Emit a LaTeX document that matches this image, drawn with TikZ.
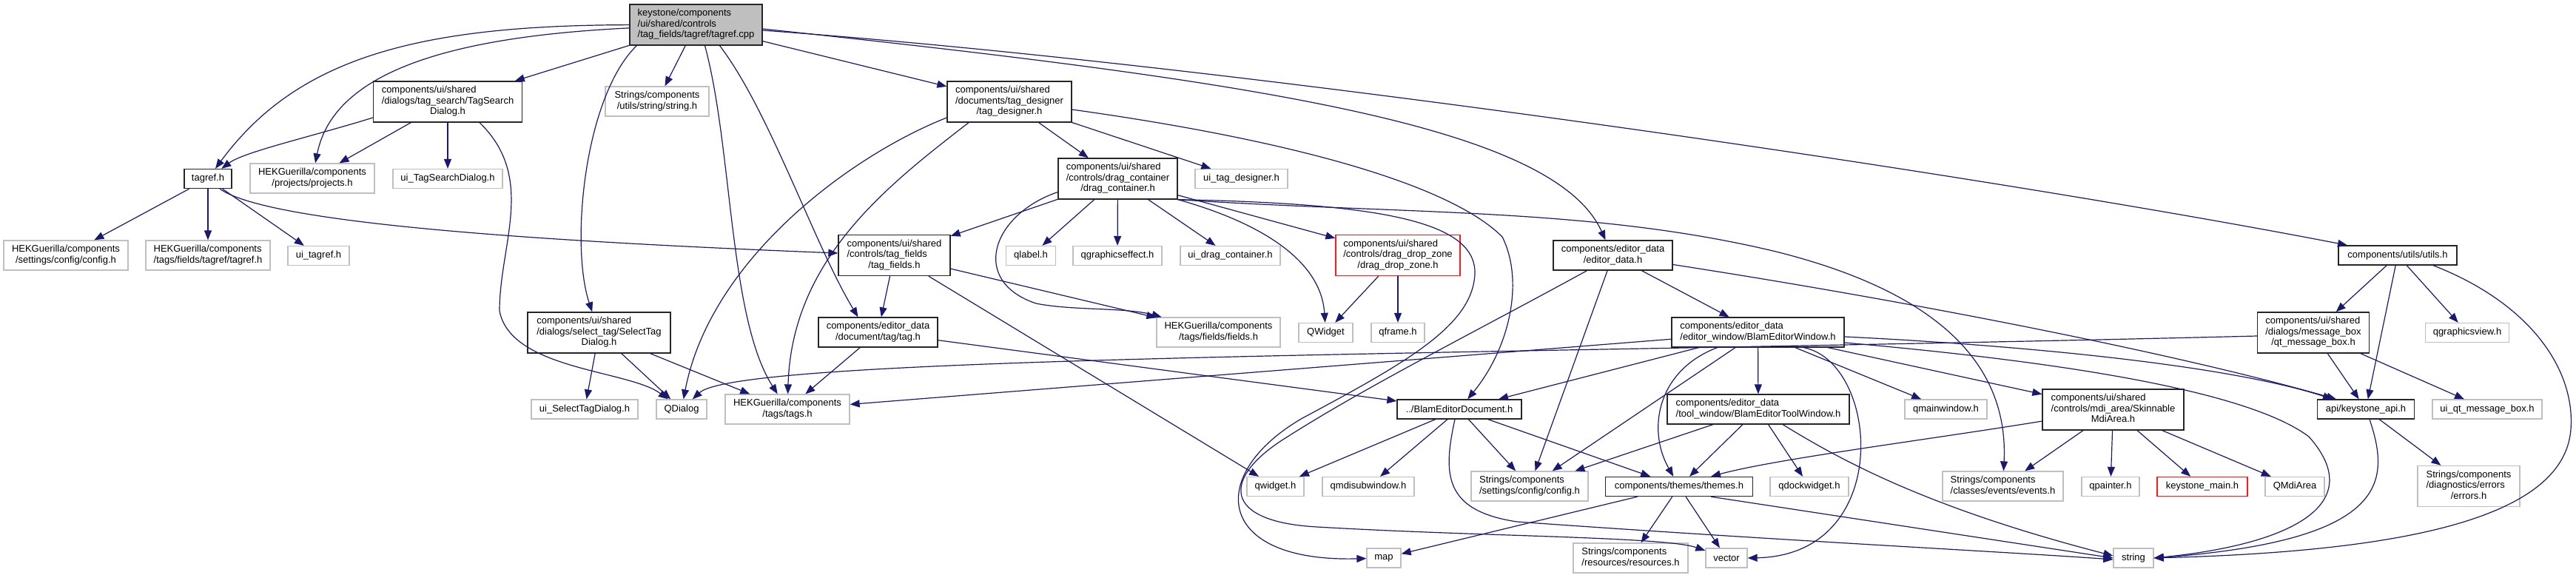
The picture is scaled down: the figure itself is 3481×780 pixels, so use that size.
\documentclass[tikz,border=0pt]{standalone}
\usepackage{fontspec}
\setmainfont{Liberation Sans}
\usetikzlibrary{arrows.meta}
\definecolor{edgeblue}{HTML}{191970}
\definecolor{rootfill}{HTML}{BFBFBF}
\definecolor{extgray}{HTML}{BFBFBF}
\newcommand{\ndfont}{\fontsize{13}{14.5}\selectfont}
\newcommand{\ml}[2]{\begin{tabular}{@{}l@{}}#1\\\multicolumn{1}{@{}c@{}}{#2}\end{tabular}}
\tikzset{
  nd/.style={rectangle, inner xsep=2pt, inner ysep=0pt, font=\ndfont, line width=1.3pt, text=black},
  doc/.style={nd, draw=black!85, fill=white},
  ext/.style={nd, draw=extgray, fill=white},
  trunc/.style={nd, draw=red!90, fill=white},
  rootst/.style={nd, draw=black!85, fill=rootfill},
  conn/.style={draw=edgeblue, line width=1.2pt, -{Triangle[length=13pt,width=10pt,fill=edgeblue]}}
}
\begin{document}
\begin{tikzpicture}[x=1pt,y=-1pt]
\useasboundingbox (0,0) rectangle (3481,780);
\fill[white] (0,0) rectangle (3481,780);

% ---------- nodes ----------
\node[rootst,minimum width=179pt,minimum height=55pt] (root) at (940.5,33.5) {\ml{keystone/components\\/ui/shared/controls}{/tag\_fields/tagref/tagref.cpp}};
\node[doc,minimum width=201pt,minimum height=55pt] (TSD) at (605,137.5) {\ml{components/ui/shared\\/dialogs/tag\_search/TagSearch}{Dialog.h}};
\node[ext,minimum width=140pt,minimum height=40pt] (strU) at (888,137) {\ml{Strings/components}{/utils/string/string.h}};
\node[doc,minimum width=168pt,minimum height=55pt] (tagdes) at (1364,137.5) {\ml{components/ui/shared\\/documents/tag\_designer}{/tag\_designer.h}};
\node[doc,minimum width=64pt,minimum height=26pt] (tagref) at (281,241.5) {tagref.h};
\node[ext,minimum width=168pt,minimum height=40pt] (projects) at (422,241) {\ml{HEKGuerilla/components}{/projects/projects.h}};
\node[ext,minimum width=148pt,minimum height=26pt] (uiTSD) at (605,241.5) {ui\_TagSearchDialog.h};
\node[doc,minimum width=161pt,minimum height=55pt] (dragc) at (1510.5,241.5) {\ml{components/ui/shared\\/controls/drag\_container}{/drag\_container.h}};
\node[ext,minimum width=125pt,minimum height=26pt] (uitagdes) at (1677.5,241.5) {ui\_tag\_designer.h};
\node[ext,minimum width=168pt,minimum height=40pt] (cfgHEK) at (89,345) {\ml{HEKGuerilla/components}{/settings/config/config.h}};
\node[ext,minimum width=168pt,minimum height=40pt] (tagrefHEK) at (281,345) {\ml{HEKGuerilla/components}{/tags/fields/tagref/tagref.h}};
\node[ext,minimum width=83pt,minimum height=26pt] (uitagref) at (430.5,345.5) {ui\_tagref.h};
\node[doc,minimum width=151pt,minimum height=55pt] (tagfields) at (1208.5,345) {\ml{components/ui/shared\\/controls/tag\_fields}{/tag\_fields.h}};
\node[ext,minimum width=67pt,minimum height=26pt] (qlabel) at (1393,345.5) {qlabel.h};
\node[ext,minimum width=120pt,minimum height=26pt] (qgfx) at (1510,345.5) {qgraphicseffect.h};
\node[ext,minimum width=135pt,minimum height=26pt] (uidragc) at (1662.5,345.5) {ui\_drag\_container.h};
\node[trunc,minimum width=168pt,minimum height=55pt] (dropzone) at (1889,345) {\ml{components/ui/shared\\/controls/drag\_drop\_zone}{/drag\_drop\_zone.h}};
\node[doc,minimum width=161pt,minimum height=40pt] (editordata) at (2179.5,345) {\ml{components/editor\_data}{/editor\_data.h}};
\node[doc,minimum width=160pt,minimum height=26pt] (utils) at (3240,345) {components/utils/utils.h};
\node[doc,minimum width=193pt,minimum height=55pt] (STD) at (809.5,449.5) {\ml{components/ui/shared\\/dialogs/select\_tag/SelectTag}{Dialog.h}};
\node[doc,minimum width=161pt,minimum height=40pt] (tagh) at (1186.5,449) {\ml{components/editor\_data}{/document/tag/tag.h}};
\node[ext,minimum width=167pt,minimum height=40pt] (fields) at (1646.5,449) {\ml{HEKGuerilla/components}{/tags/fields/fields.h}};
\node[ext,minimum width=73pt,minimum height=26pt] (QWidget) at (1791.5,449.5) {QWidget};
\node[ext,minimum width=72pt,minimum height=26pt] (qframe) at (1889,449.5) {qframe.h};
\node[doc,minimum width=233pt,minimum height=40pt] (BEW) at (2375.5,449) {\ml{components/editor\_data}{/editor\_window/BlamEditorWindow.h}};
\node[doc,minimum width=151pt,minimum height=55pt] (qtmsg) at (3126,449.5) {\ml{components/ui/shared\\/dialogs/message\_box}{/qt\_message\_box.h}};
\node[ext,minimum width=113pt,minimum height=26pt] (qgview) at (3334,449.5) {qgraphicsview.h};
\node[ext,minimum width=144pt,minimum height=26pt] (uiSTD) at (790,553) {ui\_SelectTagDialog.h};
\node[ext,minimum width=68pt,minimum height=26pt] (QDialog) at (921,553) {QDialog};
\node[ext,minimum width=168pt,minimum height=40pt] (tags) at (1064,553) {\ml{HEKGuerilla/components}{/tags/tags.h}};
\node[doc,minimum width=168pt,minimum height=26pt] (BED) at (1972,553) {../BlamEditorDocument.h};
\node[doc,minimum width=246pt,minimum height=40pt] (BETW) at (2376,553) {\ml{components/editor\_data}{/tool\_window/BlamEditorToolWindow.h}};
\node[ext,minimum width=111pt,minimum height=26pt] (qmainwin) at (2629.5,553) {qmainwindow.h};
\node[doc,minimum width=191pt,minimum height=55pt] (SMA) at (2855.5,553.5) {\ml{components/ui/shared\\/controls/mdi\_area/Skinnable}{MdiArea.h}};
\node[doc,minimum width=131pt,minimum height=26pt] (api) at (3197,553) {api/keystone\_api.h};
\node[ext,minimum width=148pt,minimum height=26pt] (uiqtmsg) at (3361,553) {ui\_qt\_message\_box.h};
\node[ext,minimum width=77pt,minimum height=26pt] (qwidget) at (1723.5,657.5) {qwidget.h};
\node[ext,minimum width=124pt,minimum height=26pt] (qmdisub) at (1849,657.5) {qmdisubwindow.h};
\node[ext,minimum width=158pt,minimum height=40pt] (cfgStr) at (2067,657) {\ml{Strings/components}{/settings/config/config.h}};
\node[doc,minimum width=199pt,minimum height=26pt] (themes) at (2269,657.5) {components/themes/themes.h};
\node[ext,minimum width=106pt,minimum height=26pt] (qdock) at (2445,657.5) {qdockwidget.h};
\node[ext,minimum width=163pt,minimum height=40pt] (events) at (2706.5,657) {\ml{Strings/components}{/classes/events/events.h}};
\node[ext,minimum width=78pt,minimum height=26pt] (qpainter) at (2852,657.5) {qpainter.h};
\node[trunc,minimum width=122pt,minimum height=26pt] (kmain) at (2976,657.5) {keystone\_main.h};
\node[ext,minimum width=80pt,minimum height=26pt] (QMdiArea) at (3101,657.5) {QMdiArea};
\node[ext,minimum width=138pt,minimum height=55pt] (errors) at (3336,657) {\ml{Strings/components\\/diagnostics/errors}{/errors.h}};
\node[ext,minimum width=46pt,minimum height=26pt] (map) at (1870,754) {map};
\node[ext,minimum width=155pt,minimum height=40pt] (resources) at (2203.5,754) {\ml{Strings/components}{/resources/resources.h}};
\node[ext,minimum width=56pt,minimum height=26pt] (vector) at (2333,754) {vector};
\node[ext,minimum width=54pt,minimum height=26pt] (string) at (2883,754) {string};

% ---------- connectors ----------
% root
\draw[conn] (root) .. controls (560,34) and (400,80) .. (tagref);
\draw[conn] (root) .. controls (600,50) and (450,100) .. (projects);
\draw[conn] (root) -- (TSD);
\draw[conn] ([xshift=10pt]root.south west) .. controls (790,130) and (770,330) .. (STD);
\draw[conn] (root) -- (strU);
\draw[conn] ([xshift=12pt]root.south) .. controls (990,200) and (985,430) .. (tags);
\draw[conn] ([xshift=32pt]root.south) .. controls (1040,150) and (1100,330) .. ([xshift=-27pt]tagh.north);
\draw[conn] (root) -- (tagdes);
\draw[conn] ([yshift=-5.5pt]root.east) .. controls (1700,110) and (2100,170) .. ([xshift=-10pt]editordata.north);
\draw[conn] ([yshift=-7.5pt]root.east) .. controls (1700,90) and (2700,240) .. ([xshift=-68pt]utils.north);
% TagSearchDialog
\draw[conn] ([yshift=-21.5pt]TSD.west) .. controls (420,185) and (330,205) .. (tagref);
\draw[conn] (TSD) -- (projects);
\draw[conn] (TSD) -- (uiTSD);
\draw[conn] ([xshift=43pt]TSD.south) .. controls (725,240) and (675,330) .. (675,420) .. controls (690,500) and (850,500) .. (QDialog);
% tagref.h
\draw[conn] (tagref) -- (cfgHEK);
\draw[conn] (tagref) -- (tagrefHEK);
\draw[conn] (tagref) -- (uitagref);
\draw[conn] ([xshift=16pt]tagref.south) .. controls (360,300) and (700,325) .. (tagfields);
% tag_designer
\draw[conn] ([yshift=-21.5pt]tagdes.west) .. controls (1150,210) and (960,350) .. (QDialog);
\draw[conn] ([xshift=-55pt]tagdes.south) .. controls (1200,250) and (1070,350) .. (tags);
\draw[conn] (tagdes) -- (dragc);
\draw[conn] (tagdes) -- (uitagdes);
\draw[conn] ([yshift=-10.5pt]tagdes.east) .. controls (1750,190) and (1960,250) .. (2030,320) .. controls (2060,380) and (2040,470) .. (BED);
% drag_container
\draw[conn] (dragc) -- (tagfields);
\draw[conn] (dragc) -- (qlabel);
\draw[conn] (dragc) -- (qgfx);
\draw[conn] (dragc) -- (uidragc);
\draw[conn] (dragc) -- (dropzone);
\draw[conn] ([yshift=-18pt]dragc.west) .. controls (1340,290) and (1310,380) .. (1400,410) .. controls (1450,420) and (1520,415) .. (fields);
\draw[conn] (dragc.south east) .. controls (1700,300) and (1785,350) .. (QWidget);
\draw[conn] (dragc.south east) .. controls (1900,290) and (2150,280) .. (2400,340) .. controls (2600,390) and (2715,480) .. (events);
\draw[conn] (dragc.south east) .. controls (1870,275) and (1995,300) .. (1993,370) .. controls (1990,440) and (1900,490) .. (1760,565) .. controls (1630,640) and (1640,760) .. (map);
% tag_fields
\draw[conn] (tagfields) -- (tagh);
\draw[conn] (tagfields) -- (qwidget);
\draw[conn] (tagfields) -- (fields);
% drag_drop_zone
\draw[conn] (dropzone) -- (QWidget);
\draw[conn] (dropzone) -- (qframe);
% editor_data
\draw[conn] (editordata) -- (BEW);
\draw[conn] (editordata) -- (cfgStr);
\draw[conn] (editordata) .. controls (2600,410) and (2950,480) .. ([xshift=-40pt]api.north);
\draw[conn] ([xshift=-35pt]editordata.south) .. controls (2000,445) and (1850,520) .. (1740,590) .. controls (1650,645) and (1650,705) .. (1780,712) .. controls (2000,725) and (2250,725) .. (vector);
% utils
\draw[conn] (utils) -- (qtmsg);
\draw[conn] (utils) -- (api);
\draw[conn] (utils) -- (qgview);
\draw[conn] ([xshift=48pt]utils.south) .. controls (3420,410) and (3480,500) .. (3474,580) .. controls (3465,700) and (3250,745) .. (string.east);
% SelectTagDialog
\draw[conn] (STD) -- (uiSTD);
\draw[conn] (STD) -- (QDialog);
\draw[conn] (STD) -- (tags);
% tag.h
\draw[conn] (tagh) -- (tags);
\draw[conn] (tagh) -- (BED);
% BlamEditorWindow
\draw[conn] (BEW) -- (tags);
\draw[conn] (BEW) -- (BED);
\draw[conn] (BEW) -- (BETW);
\draw[conn] (BEW) -- (cfgStr);
\draw[conn] (BEW) .. controls (2240,500) and (2225,580) .. (themes);
\draw[conn] (BEW) -- (qmainwin);
\draw[conn] (BEW) -- (SMA);
\draw[conn] ([xshift=62pt]BEW.south) .. controls (2540,490) and (2560,750) .. (vector.east);
\draw[conn] ([yshift=-6pt]BEW.east) .. controls (2700,465) and (3000,490) .. ([xshift=-45pt]api.north);
\draw[conn] ([yshift=-14pt]BEW.east) .. controls (2800,490) and (3040,530) .. (3120,590) .. controls (3200,680) and (3100,735) .. (string.east);
% qt_message_box
\draw[conn] (qtmsg) -- (api);
\draw[conn] (qtmsg) -- (uiqtmsg);
\draw[conn] ([yshift=-4.5pt]qtmsg.west) .. controls (2000,480) and (1000,480) .. (QDialog);
% BlamEditorToolWindow
\draw[conn] (BETW) -- (cfgStr);
\draw[conn] (BETW) -- (themes);
\draw[conn] (BETW) -- (qdock);
\draw[conn] (BETW) .. controls (2500,630) and (2620,690) .. ([yshift=3pt]string.west);
% SkinnableMdiArea
\draw[conn] (SMA) .. controls (2600,595) and (2400,620) .. ([xshift=43pt]themes.north);
\draw[conn] (SMA) -- (events);
\draw[conn] (SMA) -- (qpainter);
\draw[conn] (SMA) -- (kmain);
\draw[conn] (SMA) -- (QMdiArea);
% keystone_api
\draw[conn] ([xshift=5pt]api.south) .. controls (3230,650) and (3230,730) .. (string.east);
\draw[conn] (api) -- (errors);
% BlamEditorDocument
\draw[conn] (BED) -- (qwidget);
\draw[conn] (BED) -- (qmdisub);
\draw[conn] (BED) -- (cfgStr);
\draw[conn] (BED) -- (themes);
\draw[conn] ([xshift=-6pt]BED.south) .. controls (1950,640) and (1950,690) .. (2050,705) .. controls (2400,730) and (2700,745) .. ([yshift=-2pt]string.west);
% themes
\draw[conn] (themes) -- (map);
\draw[conn] (themes) -- (resources);
\draw[conn] (themes) -- (vector);
\draw[conn] ([xshift=43pt]themes.south) -- (string.west);
\end{tikzpicture}
\end{document}
